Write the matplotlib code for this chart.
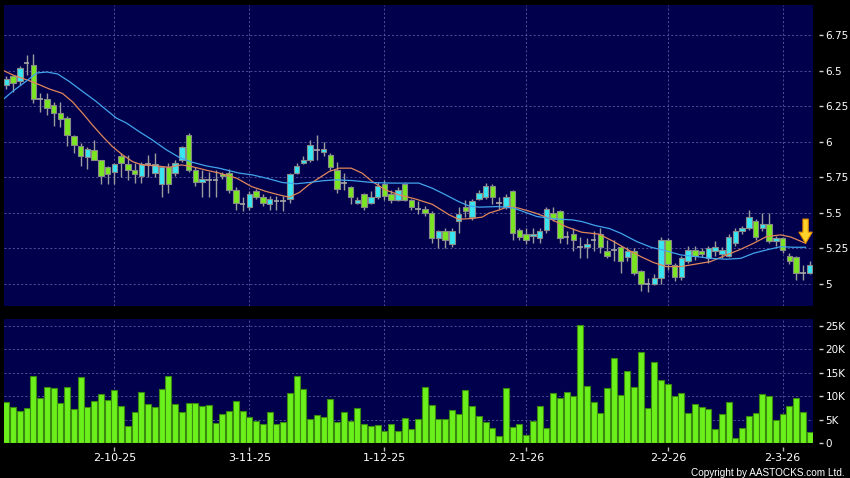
import matplotlib
matplotlib.use('Agg')
import matplotlib.pyplot as plt

# ---------------- data ----------------
tick_labels = ['2-10-25', '3-11-25', '1-12-25', '2-1-26', '2-2-26', '2-3-26']
tick_index = [16, 36, 56, 77, 98, 115]

opens = [6.40, 6.46, 6.43, 6.55, 6.54, 6.30, 6.30, 6.26, 6.20, 6.17,
         6.04, 5.97, 5.89, 5.94, 5.87, 5.82, 5.79, 5.90, 5.84, 5.80,
         5.76, 5.845, 5.78, 5.70, 5.82, 5.78, 5.87, 6.05, 5.80, 5.72,
         5.73, 5.73, 5.77, 5.78, 5.66, 5.56, 5.54, 5.65, 5.61, 5.56,
         5.58, 5.585, 5.60, 5.78, 5.85, 5.87, 5.94, 5.93, 5.91, 5.80,
         5.71, 5.68, 5.57, 5.63, 5.57, 5.61, 5.70, 5.63, 5.59, 5.70,
         5.59, 5.53, 5.53, 5.50, 5.32, 5.37, 5.28, 5.44, 5.54, 5.47,
         5.60, 5.61, 5.69, 5.57, 5.54, 5.65, 5.38, 5.35, 5.34, 5.32,
         5.38, 5.50, 5.51, 5.33, 5.35, 5.26, 5.26, 5.31, 5.35, 5.23,
         5.24, 5.26, 5.19, 5.23, 5.09, 5.00, 5.00, 5.04, 5.31, 5.13,
         5.05, 5.16, 5.24, 5.23, 5.18, 5.23, 5.21, 5.20, 5.29, 5.37,
         5.39, 5.44, 5.39, 5.42, 5.30, 5.32, 5.20, 5.19, 5.08, 5.08]
highs = [6.46, 6.47, 6.53, 6.61, 6.62, 6.34, 6.34, 6.28, 6.28, 6.18,
         6.05, 5.99, 5.96, 6.01, 5.87, 5.83, 5.85, 5.92, 5.91, 5.85,
         5.86, 5.91, 5.92, 5.83, 5.85, 5.87, 5.97, 6.06, 5.82, 5.80,
         5.79, 5.80, 5.79, 5.81, 5.68, 5.61, 5.65, 5.67, 5.63, 5.62,
         5.62, 5.62, 5.78, 5.85, 5.90, 6.01, 6.05, 6.00, 5.92, 5.86,
         5.78, 5.69, 5.61, 5.64, 5.65, 5.72, 5.73, 5.66, 5.68, 5.71,
         5.60, 5.58, 5.55, 5.51, 5.38, 5.39, 5.39, 5.54, 5.59, 5.60,
         5.66, 5.71, 5.70, 5.61, 5.63, 5.66, 5.39, 5.39, 5.39, 5.39,
         5.54, 5.54, 5.52, 5.37, 5.39, 5.33, 5.32, 5.37, 5.39, 5.31,
         5.31, 5.27, 5.26, 5.25, 5.10, 5.04, 5.07, 5.33, 5.32, 5.15,
         5.20, 5.27, 5.27, 5.25, 5.27, 5.30, 5.26, 5.35, 5.39, 5.41,
         5.52, 5.46, 5.50, 5.50, 5.34, 5.33, 5.22, 5.20, 5.13, 5.16]
lows = [6.37, 6.35, 6.40, 6.47, 6.27, 6.21, 6.19, 6.11, 6.10, 5.97,
        5.92, 5.83, 5.81, 5.87, 5.70, 5.70, 5.70, 5.75, 5.73, 5.71,
        5.71, 5.755, 5.75, 5.61, 5.64, 5.76, 5.86, 5.79, 5.69, 5.61,
        5.61, 5.61, 5.74, 5.64, 5.52, 5.51, 5.52, 5.60, 5.55, 5.52,
        5.52, 5.51, 5.57, 5.77, 5.84, 5.86, 5.87, 5.90, 5.80, 5.64,
        5.66, 5.56, 5.56, 5.52, 5.56, 5.60, 5.59, 5.57, 5.58, 5.58,
        5.52, 5.49, 5.48, 5.29, 5.25, 5.25, 5.26, 5.36, 5.47, 5.45,
        5.59, 5.60, 5.56, 5.53, 5.53, 5.31, 5.31, 5.28, 5.29, 5.29,
        5.36, 5.44, 5.29, 5.28, 5.23, 5.18, 5.18, 5.23, 5.22, 5.18,
        5.16, 5.075, 5.16, 5.06, 4.95, 4.94, 4.99, 5.00, 5.10, 5.02,
        5.03, 5.15, 5.17, 5.19, 5.15, 5.20, 5.18, 5.19, 5.27, 5.35,
        5.38, 5.31, 5.37, 5.29, 5.27, 5.22, 5.14, 5.03, 5.03, 5.07]
closes = [6.44, 6.41, 6.52, 6.55, 6.30, 6.30, 6.24, 6.20, 6.16, 6.05,
          5.98, 5.90, 5.95, 5.87, 5.76, 5.77, 5.84, 5.85, 5.80, 5.77,
          5.84, 5.845, 5.84, 5.82, 5.70, 5.85, 5.96, 5.80, 5.72, 5.74,
          5.73, 5.73, 5.76, 5.66, 5.57, 5.56, 5.63, 5.61, 5.57, 5.60,
          5.58, 5.585, 5.77, 5.83, 5.87, 5.98, 5.94, 5.95, 5.82, 5.67,
          5.71, 5.61, 5.59, 5.54, 5.61, 5.69, 5.62, 5.59, 5.66, 5.59,
          5.54, 5.53, 5.50, 5.32, 5.37, 5.31, 5.37, 5.49, 5.51, 5.58,
          5.64, 5.69, 5.61, 5.57, 5.61, 5.36, 5.33, 5.31, 5.35, 5.37,
          5.53, 5.46, 5.32, 5.33, 5.31, 5.26, 5.28, 5.31, 5.26, 5.20,
          5.24, 5.16, 5.23, 5.08, 5.00, 5.00, 5.04, 5.31, 5.14, 5.05,
          5.18, 5.24, 5.20, 5.21, 5.25, 5.26, 5.24, 5.33, 5.37, 5.39,
          5.47, 5.33, 5.42, 5.30, 5.32, 5.24, 5.16, 5.08, 5.08, 5.13]

volume_k = [8.8, 7.6, 6.9, 7.4, 14.3, 9.6, 11.9, 11.7, 8.5, 12.0,
            7.3, 14.1, 7.7, 9.0, 10.5, 9.1, 11.3, 7.8, 3.7, 6.6,
            10.9, 8.3, 7.6, 11.6, 14.3, 8.3, 6.7, 8.5, 8.6, 7.8,
            8.1, 4.2, 6.1, 6.8, 9.0, 6.9, 5.6, 4.6, 4.0, 6.7,
            4.0, 4.4, 10.7, 14.2, 11.6, 5.1, 5.9, 5.5, 9.4, 4.4,
            6.6, 4.6, 7.4, 4.0, 3.7, 3.8, 2.5, 4.1, 2.6, 5.4,
            3.0, 5.1, 12.0, 8.1, 5.1, 5.1, 7.1, 6.2, 11.2, 7.8,
            5.8, 4.4, 3.3, 1.4, 11.8, 3.4, 4.1, 1.8, 4.6, 7.8,
            3.1, 10.6, 9.5, 10.9, 10.0, 25.1, 12.1, 8.8, 6.4, 11.7,
            18.2, 10.2, 15.3, 11.9, 19.4, 7.5, 17.3, 13.5, 12.5, 10.0,
            10.7, 6.4, 8.2, 7.7, 7.2, 2.9, 6.2, 8.7, 1.1, 3.1,
            5.7, 6.4, 10.5, 10.0, 5.0, 6.1, 7.8, 9.5, 6.5, 2.3]

# moving averages (position in bars, value)
ma_fast_x = [-0.4, 0.9, 3.9, 6.4, 8.3, 9.8, 11.3, 12.7, 14.2, 15.7, 17.2, 18.7,
             20.1, 22.2, 24.1, 25.9, 27.5, 29.6, 31.5, 34.1, 36.3, 38.5, 40.4,
             41.9, 43.4, 44.8, 46.3, 47.8, 49.3, 51.1, 52.7, 54.2, 56.2, 58.2,
             60.7, 63.1, 65.6, 67.0, 69.0, 70.5, 71.5, 73.0, 74.4, 75.9, 78.4,
             80.4, 82.9, 85.2, 87.8, 89.9, 91.9, 94.0, 95.9, 97.8, 99.9, 102.3,
             104.3, 106.7, 108.8, 110.7, 112.6, 114.7, 116.2, 118.4]
ma_fast = [6.50, 6.47, 6.42, 6.37, 6.34, 6.28, 6.20, 6.12, 6.04, 5.966, 5.908,
           5.86, 5.837, 5.83, 5.82, 5.837, 5.825, 5.80, 5.78, 5.744, 5.685,
           5.65, 5.626, 5.61, 5.643, 5.697, 5.744, 5.79, 5.814, 5.814, 5.779,
           5.72, 5.66, 5.626, 5.596, 5.56, 5.486, 5.455, 5.46, 5.47, 5.498,
           5.52, 5.544, 5.533, 5.498, 5.462, 5.403, 5.364, 5.35, 5.30, 5.245,
           5.192, 5.15, 5.122, 5.122, 5.141, 5.157, 5.204, 5.244, 5.286,
           5.333, 5.345, 5.33, 5.286]
ma_slow_x = [-0.4, 0.9, 2.9, 4.5, 6.0, 7.6, 9.3, 11.3, 13.3, 14.8, 16.3, 17.8,
             19.7, 21.6, 23.7, 25.6, 27.5, 29.6, 31.5, 34.5, 36.4, 38.5, 40.9,
             42.9, 44.8, 46.8, 48.8, 51.2, 54.2, 57.1, 61.1, 63.1, 65.1, 67.0,
             68.5, 70.0, 72.9, 75.2, 78.6, 81.1, 83.9, 85.3, 87.3, 89.3, 91.0,
             93.4, 95.5, 97.4, 99.9, 102.3, 104.3, 106.7, 108.8, 110.7, 112.6,
             114.7, 116.6, 118.4]
ma_slow = [6.30, 6.353, 6.424, 6.483, 6.49, 6.476, 6.424, 6.353, 6.283, 6.224,
           6.166, 6.131, 6.07, 6.013, 5.943, 5.89, 5.856, 5.83, 5.814, 5.779,
           5.767, 5.744, 5.713, 5.704, 5.713, 5.725, 5.732, 5.727, 5.713,
           5.709, 5.709, 5.673, 5.626, 5.579, 5.549, 5.54, 5.544, 5.533,
           5.474, 5.458, 5.45, 5.438, 5.41, 5.39, 5.357, 5.298, 5.258, 5.237,
           5.204, 5.192, 5.18, 5.174, 5.18, 5.216, 5.239, 5.262, 5.258, 5.258]

price_ticks = [5.0, 5.25, 5.5, 5.75, 6.0, 6.25, 6.5, 6.75]
price_tick_labels = ['5', '5.25', '5.5', '5.75', '6', '6.25', '6.5', '6.75']
vol_ticks = [0, 5000, 10000, 15000, 20000, 25000]
vol_tick_labels = ['0', '5K', '10K', '15K', '20K', '25K']

# ---------------- style ----------------
PANEL = '#00004c'
GRID = '#5a5aa0'
UP = '#38e6f2'
DOWN = '#7ae622'
EDGE = '#8a8a8a'
WICK = '#9c9c9c'

W, H = 850, 478
fig = plt.figure(figsize=(8.5, 4.78), dpi=100, facecolor='black')
ax = fig.add_axes([4 / W, 1 - 306 / H, 809 / W, 301 / H])
axv = fig.add_axes([4 / W, 1 - 443 / H, 809 / W, 124 / H], sharex=ax)

for a in (ax, axv):
    a.set_facecolor(PANEL)
    for s in a.spines.values():
        s.set_visible(False)
    a.set_axisbelow(True)
    a.grid(True, color=GRID, linestyle=(0, (2.5, 2.5)), linewidth=0.6)
    a.yaxis.tick_right()
    a.spines['right'].set_position(('outward', 4))
    a.tick_params(axis='y', colors='#cfcfcf', length=3, width=1, pad=2,
                  labelcolor='white', labelsize=7.5)

n = len(closes)
xs = list(range(n))

# wicks
ax.vlines(xs, lows, highs, color=WICK, linewidth=1.0, zorder=2)
# bodies
for i in xs:
    o, c = opens[i], closes[i]
    if c == o:
        ax.hlines(c, i - 0.4, i + 0.4, color='#a8a8a8', linewidth=1.2, zorder=3)
    else:
        col = UP if c > o else DOWN
        ax.bar(i, abs(c - o), bottom=min(o, c), width=0.8, color=col,
               edgecolor=EDGE, linewidth=0.8, zorder=3)

ax.plot(ma_fast_x, ma_fast, color='#e0865a', linewidth=0.9, zorder=4)
ax.plot(ma_slow_x, ma_slow, color='#42a4ec', linewidth=0.9, zorder=4)

ax.annotate('', xy=(ma_fast_x[-1], ma_fast[-1]),
            xytext=(ma_fast_x[-1], ma_fast[-1] + 0.17),
            arrowprops=dict(arrowstyle='simple,head_length=0.8,head_width=0.95,tail_width=0.38',
                            fc='#ffd42a', ec='#e89000', lw=0.8,
                            shrinkA=0, shrinkB=0, mutation_scale=10),
            zorder=6)

ax.set_ylim(4.845, 6.961)
ax.set_yticks(price_ticks)
ax.set_yticklabels(price_tick_labels)
ax.set_xlim(-0.35, 119.5)
ax.set_xticks(tick_index)
ax.tick_params(axis='x', length=0, labelbottom=False)

axv.bar(xs, [v * 1000 for v in volume_k], width=0.86, color='#6cf01c',
        edgecolor='#3a8a10', linewidth=0.8, zorder=3)
axv.set_ylim(0, 26400)
axv.set_yticks(vol_ticks)
axv.set_yticklabels(vol_tick_labels)
axv.spines['bottom'].set_position(('outward', 3))
axv.set_xticks(tick_index)
axv.set_xticklabels(tick_labels)
axv.tick_params(axis='x', colors='#bdbdbd', length=3, width=1, pad=1,
                labelcolor='white', labelsize=8.0)

fig.text(845 / W, 1 - 472.5 / H, 'Copyright by AASTOCKS.com Ltd.', ha='right',
         va='center', color='white', fontsize=7.2, family='Liberation Sans')

fig.savefig('out.png', dpi=100, facecolor='black')
